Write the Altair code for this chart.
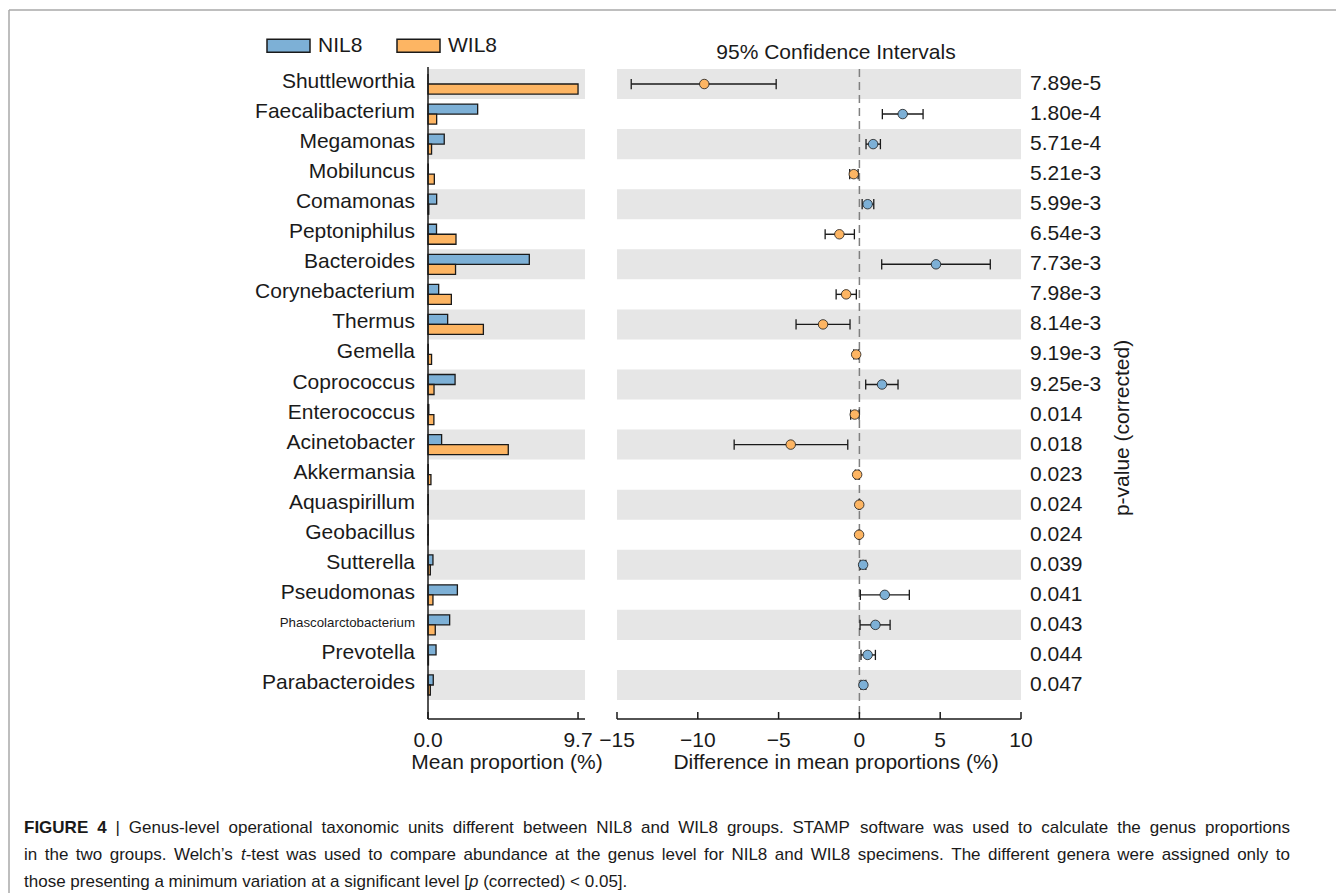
import altair as alt
import pandas as pd

# ---------------- data ----------------
genera = ["Shuttleworthia", "Faecalibacterium", "Megamonas", "Mobiluncus", "Comamonas",
          "Peptoniphilus", "Bacteroides", "Corynebacterium", "Thermus", "Gemella",
          "Coprococcus", "Enterococcus", "Acinetobacter", "Akkermansia", "Aquaspirillum",
          "Geobacillus", "Sutterella", "Pseudomonas", "Phascolarctobacterium", "Prevotella",
          "Parabacteroides"]
nil8 = [0.0, 3.21, 1.05, 0.02, 0.56, 0.55, 6.55, 0.69, 1.27, 0.02, 1.75, 0.05, 0.88,
        0.02, 0.02, 0.02, 0.32, 1.90, 1.40, 0.52, 0.34]
wil8 = [9.70, 0.56, 0.23, 0.41, 0.05, 1.81, 1.78, 1.51, 3.58, 0.23, 0.39, 0.38, 5.19,
        0.19, 0.01, 0.01, 0.15, 0.32, 0.47, 0.03, 0.15]
diff = [-9.60, 2.68, 0.85, -0.35, 0.51, -1.24, 4.74, -0.82, -2.25, -0.20, 1.40, -0.29,
        -4.25, -0.14, -0.01, -0.02, 0.23, 1.57, 0.99, 0.51, 0.25]
ci_low = [-14.12, 1.42, 0.41, -0.60, 0.17, -2.12, 1.38, -1.44, -3.92, -0.35, 0.39, -0.54,
          -7.75, -0.25, -0.05, -0.06, 0.05, 0.06, 0.04, 0.10, 0.10]
ci_high = [-5.15, 3.94, 1.30, -0.08, 0.89, -0.31, 8.10, -0.19, -0.58, -0.05, 2.39, -0.02,
           -0.72, -0.03, 0.03, 0.02, 0.40, 3.09, 1.90, 0.99, 0.40]
p_values = ["7.89e-5", "1.80e-4", "5.71e-4", "5.21e-3", "5.99e-3", "6.54e-3", "7.73e-3",
            "7.98e-3", "8.14e-3", "9.19e-3", "9.25e-3", "0.014", "0.018", "0.023", "0.024",
            "0.024", "0.039", "0.041", "0.043", "0.044", "0.047"]

groups = ["NIL8", "WIL8"]
group_colors = ["#7db0d6", "#fdb563"]

left_ticks = [0.0, 9.7]
left_tick_labels = ["0.0", "9.7"]
right_ticks = [-15, -10, -5, 0, 5, 10]
right_tick_labels = ["\u221215", "\u221210", "\u22125", "0", "5", "10"]

# caption: **bold** words, _italic_ parts
caption_lines = [
    "**FIGURE** **4** | Genus-level operational taxonomic units different between NIL8 and WIL8 "
    "groups. STAMP software was used to calculate the genus proportions",
    "in the two groups. Welch\u2019s _t_-test was used to compare abundance at the genus level "
    "for NIL8 and WIL8 specimens. The different genera were assigned only to",
    "those presenting a minimum variation at a significant level [_p_ (corrected) < 0.05].",
]
caption_justified = [True, True, False]

# ---------------- layout constants ----------------
FONT = "Liberation Sans"
INK = "#1a1a1a"
W, H = 1328, 885
LEFT_DOMAIN = [0, 10.15]
LEFT_RANGE = [420, 577]
RIGHT_DOMAIN = [-15, 10]
RIGHT_RANGE = [609, 1013]
Y_DOMAIN = [-0.5, 20.5]
Y_RANGE = [61, 692]
AXIS_Y = 711
BAND = "#e6e6e6"
FS = 21
CAP_FS = 17
CAP_X0, CAP_X1 = 16, 1282
CAP_Y = [820, 847, 874]

df = pd.DataFrame({
    "idx": list(range(len(genera))), "genus": genera, "NIL8": nil8, "WIL8": wil8,
    "diff": diff, "lo": ci_low, "hi": ci_high, "p": p_values,
})
base = alt.Chart(df)


def xl(field):
    return alt.X(field, type="quantitative", axis=None,
                 scale=alt.Scale(domain=LEFT_DOMAIN, range=LEFT_RANGE, nice=False, zero=False))


def xr(field):
    return alt.X(field, type="quantitative", axis=None,
                 scale=alt.Scale(domain=RIGHT_DOMAIN, range=RIGHT_RANGE, nice=False, zero=False))


def yy(field):
    return alt.Y(field, type="quantitative", axis=None,
                 scale=alt.Scale(domain=Y_DOMAIN, range=Y_RANGE, nice=False, zero=False))


legend = alt.Legend(
    title=None, orient="none", legendX=258, legendY=15, direction="horizontal",
    symbolType="M-1,-0.3L1,-0.3L1,0.3L-1,0.3Z", symbolSize=1849,
    symbolStrokeColor=INK, symbolStrokeWidth=1.5, labelFontSize=FS, labelFont=FONT,
    labelColor=INK, labelOffset=7, columnPadding=31, padding=0,
)
fill_scale = alt.Scale(domain=groups, range=group_colors)

# ---------------- left panel ----------------
left_bands = base.transform_filter("datum.idx % 2 == 0").transform_calculate(
    y0="datum.idx - 0.5", y1="datum.idx + 0.5",
    xa=str(LEFT_DOMAIN[0]), xb=str(LEFT_DOMAIN[1]),
).mark_rect(fill=BAND).encode(x=xl("xa"), x2="xb:Q", y=yy("y0"), y2="y1:Q")

bars = base.transform_fold(["NIL8", "WIL8"], as_=["group", "val"]).transform_calculate(
    y0="datum.idx + (datum.group == 'NIL8' ? -0.333 : 0)",
    y1="datum.idx + (datum.group == 'NIL8' ? 0 : 0.333)",
    zero="0",
).mark_rect(stroke=INK, strokeWidth=1.3).encode(
    x=xl("zero"), x2="val:Q", y=yy("y0"), y2="y1:Q",
    fill=alt.Fill("group:N", scale=fill_scale, legend=legend),
)

one = pd.DataFrame({"v": [0], "a": [LEFT_DOMAIN[0]], "b": [LEFT_DOMAIN[1]],
                    "ra": [RIGHT_DOMAIN[0]], "rb": [RIGHT_DOMAIN[1]]})
left_yaxis = alt.Chart(one).mark_rule(stroke=INK, strokeWidth=1.5).encode(
    x=xl("v"), y=alt.value(59), y2=alt.value(AXIS_Y))
left_xaxis = alt.Chart(one).mark_rule(stroke=INK, strokeWidth=1.5).encode(
    x=xl("a"), x2="b:Q", y=alt.value(AXIS_Y))
lt = pd.DataFrame({"t": left_ticks, "lab": left_tick_labels})
left_ticks_l = alt.Chart(lt).mark_rule(stroke=INK, strokeWidth=1.5).encode(
    x=xl("t"), y=alt.value(AXIS_Y - 7), y2=alt.value(AXIS_Y))
left_tick_text = alt.Chart(lt).mark_text(fontSize=FS, font=FONT, color=INK, baseline="middle").encode(
    x=xl("t"), y=alt.value(733), text="lab:N")

genus_labels = base.mark_text(align="right", baseline="middle", dy=-2, font=FONT, color=INK).encode(
    x=alt.value(407), y=yy("idx"), text="genus:N",
    size=alt.condition("datum.genus == 'Phascolarctobacterium'", alt.value(13.3), alt.value(FS)),
)

# ---------------- right panel ----------------
right_bands = base.transform_filter("datum.idx % 2 == 0").transform_calculate(
    y0="datum.idx - 0.5", y1="datum.idx + 0.5",
    xa=str(RIGHT_DOMAIN[0]), xb=str(RIGHT_DOMAIN[1]),
).mark_rect(fill=BAND).encode(x=xr("xa"), x2="xb:Q", y=yy("y0"), y2="y1:Q")

zero_line = alt.Chart(one).mark_rule(stroke="#808080", strokeWidth=1.5, strokeDash=[8, 5]).encode(
    x=xr("v"), y=alt.value(61), y2=alt.value(AXIS_Y))

err = base.mark_rule(stroke=INK, strokeWidth=1.4).encode(x=xr("lo"), x2="hi:Q", y=yy("idx"))
caps = base.transform_fold(["lo", "hi"], as_=["end", "v"]).transform_calculate(
    ya="datum.idx - 0.17", yb="datum.idx + 0.17",
).mark_rule(stroke=INK, strokeWidth=1.3).encode(x=xr("v"), y=yy("ya"), y2="yb:Q")

points = base.transform_calculate(group="datum.diff > 0 ? 'NIL8' : 'WIL8'").mark_point(
    filled=True, shape="circle", size=90, stroke=INK, strokeWidth=0.8, opacity=1
).encode(x=xr("diff"), y=yy("idx"), fill=alt.Fill("group:N", scale=fill_scale, legend=legend))

right_xaxis = alt.Chart(one).mark_rule(stroke=INK, strokeWidth=1.5).encode(
    x=xr("ra"), x2="rb:Q", y=alt.value(AXIS_Y))
rt = pd.DataFrame({"t": right_ticks, "lab": right_tick_labels})
right_ticks_l = alt.Chart(rt).mark_rule(stroke=INK, strokeWidth=1.5).encode(
    x=xr("t"), y=alt.value(AXIS_Y - 7), y2=alt.value(AXIS_Y))
right_tick_text = alt.Chart(rt).mark_text(fontSize=FS, font=FONT, color=INK, baseline="middle").encode(
    x=xr("t"), y=alt.value(733), text="lab:N")

pvals = base.mark_text(align="left", baseline="middle", fontSize=FS, font=FONT, color=INK).encode(
    x=alt.value(1022), y=yy("idx"), text="p:N")


def label(text, x, y, size=FS, angle=0, align="center"):
    return alt.Chart(pd.DataFrame({"t": [text]})).mark_text(
        fontSize=size, font=FONT, color=INK, align=align, baseline="middle", angle=angle,
    ).encode(text="t:N", x=alt.value(x), y=alt.value(y))


titles = [
    label("95% Confidence Intervals", 828, 45),
    label("Mean proportion (%)", 499, 755),
    label("Difference in mean proportions (%)", 828, 755),
    label("p-value (corrected)", 1115, 420, angle=270),
]

# ---------------- caption (justified like the journal layout) ----------------
ADV = {" ": 278, "|": 260, "-": 333, ".": 278, ",": 278, "\u2019": 222, "[": 278, "]": 278,
       "(": 333, ")": 333, "<": 584, "%": 889}
for c in "0123456789":
    ADV[c] = 556
ADV.update(dict(zip("ABCDEFGHIJKLMNOPQRSTUVWXYZ",
                    [667, 667, 722, 722, 667, 611, 778, 722, 278, 500, 667, 556, 833, 722, 778,
                     667, 778, 722, 667, 611, 722, 667, 944, 667, 667, 611])))
ADV.update(dict(zip("abcdefghijklmnopqrstuvwxyz",
                    [556, 556, 500, 556, 556, 278, 556, 556, 222, 222, 500, 222, 833, 556, 556,
                     556, 556, 333, 500, 278, 556, 500, 722, 500, 500, 500])))


def text_width(s, size):
    return sum(ADV.get(c, 556) for c in s) / 1000.0 * size


def word_segments(word):
    if word.startswith("**") and word.endswith("**"):
        return [(word[2:-2], "bold")]
    parts = word.split("_")
    return [(p, "italic" if i % 2 else "regular") for i, p in enumerate(parts) if p]


cap_rows = []
for line, y, just in zip(caption_lines, CAP_Y, caption_justified):
    words = [word_segments(w) for w in line.split(" ")]
    widths = [sum(text_width(t, CAP_FS) for t, _ in segs) for segs in words]
    gap = ((CAP_X1 - CAP_X0 - sum(widths)) / (len(words) - 1)) if just else text_width(" ", CAP_FS)
    x = CAP_X0
    for segs, wd in zip(words, widths):
        sx = x
        for t, style in segs:
            cap_rows.append({"t": t, "x": sx, "y": y, "style": style})
            sx += text_width(t, CAP_FS)
        x += wd + gap
cap_df = pd.DataFrame(cap_rows)


def caption_layer(style, weight="normal", fstyle="normal"):
    return alt.Chart(cap_df).transform_filter(f"datum.style == '{style}'").mark_text(
        fontSize=CAP_FS, font=FONT, color=INK, align="left", baseline="middle",
        fontWeight=weight, fontStyle=fstyle,
    ).encode(x=alt.X("x:Q", scale=None, axis=None), y=alt.Y("y:Q", scale=None, axis=None), text="t:N")


captions = [caption_layer("regular"), caption_layer("bold", weight="bold"),
            caption_layer("italic", fstyle="italic")]

frame_top = alt.Chart(one).mark_rule(stroke="#a8a8a8", strokeWidth=1.5).encode(
    x=alt.value(1), x2=alt.value(W), y=alt.value(2))
frame_left = alt.Chart(one).mark_rule(stroke="#a8a8a8", strokeWidth=1.5).encode(
    x=alt.value(1), y=alt.value(2), y2=alt.value(H))

chart = alt.layer(
    frame_top, frame_left,
    left_bands, bars, left_yaxis, left_xaxis, left_ticks_l, left_tick_text, genus_labels,
    right_bands, zero_line, err, caps, points, right_xaxis, right_ticks_l, right_tick_text, pvals,
    *titles, *captions,
).resolve_scale(x="independent", y="independent").properties(
    width=W, height=H, autosize=alt.AutoSizeParams(type="none"), padding=0,
).configure(font=FONT).configure_view(stroke=None)

chart.save("out.html", embed_options={"renderer": "svg", "actions": False})
